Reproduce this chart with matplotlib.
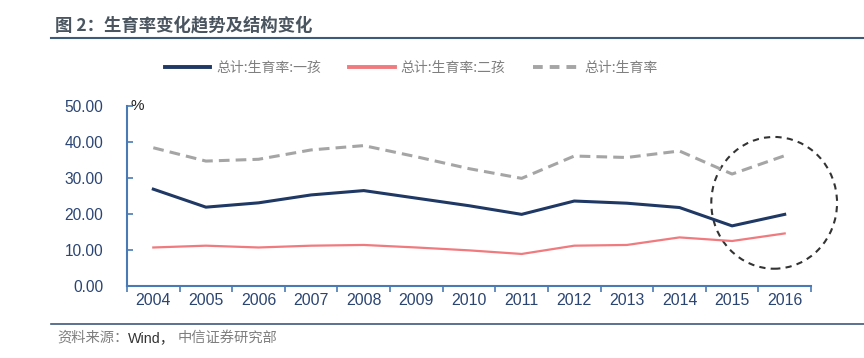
import numpy as np
import matplotlib
matplotlib.use("Agg")
import matplotlib.pyplot as plt
from matplotlib.patches import Ellipse
from matplotlib.lines import Line2D

plt.rcParams['font.family'] = ['Liberation Sans', 'Noto Sans CJK SC', 'DejaVu Sans']

years = ['2004', '2005', '2006', '2007', '2008', '2009', '2010',
         '2011', '2012', '2013', '2014', '2015', '2016']
first_child = [26.9, 21.9, 23.1, 25.3, 26.5, 24.4, 22.3, 19.9, 23.6, 23.0, 21.8, 16.7, 19.9]
second_child = [10.7, 11.2, 10.7, 11.2, 11.4, 10.7, 9.9, 8.9, 11.2, 11.4, 13.5, 12.5, 14.6]
total = [38.4, 34.7, 35.2, 37.8, 39.0, 35.9, 32.6, 29.9, 36.1, 35.7, 37.5, 31.1, 36.2]
series_names = ['总计:生育率:一孩', '总计:生育率:二孩', '总计:生育率']
yticks = [0, 10, 20, 30, 40, 50]

navy = '#1f3864'
label_blue = '#2b4573'
red = '#f07b7f'
grey = '#a5a5a5'
axis_blue = '#4a7ab5'
text_grey = '#7f7f7f'

fig = plt.figure(figsize=(8.64, 3.58), dpi=100)
ax = fig.add_axes([127 / 864, 1 - 286 / 358, (811 - 127) / 864, (286 - 106) / 358])

x = np.arange(len(years))
ax.plot(x, first_child, color=navy, lw=2.2)
ax.plot(x, second_child, color=red, lw=1.6)
ax.plot(x, total, color=grey, lw=2.2, ls=(0, (3.5, 2)))

ax.set_xlim(-0.5, len(years) - 0.5)
ax.set_ylim(0, 50)
ax.set_yticks(yticks)
ax.set_yticklabels([f'{v:.2f}' for v in yticks], fontsize=11.2, color=label_blue)
ax.set_xticks(x)
ax.set_xticklabels(years, fontsize=11.4, color=label_blue)
ax.set_xticks(np.arange(-0.5, len(years)), minor=True)
ax.tick_params(axis='x', which='major', length=0, pad=5)
ax.tick_params(axis='x', which='minor', length=4, direction='out', color=axis_blue, width=1.2)
ax.tick_params(axis='y', length=4, direction='in', color=axis_blue, width=1.2, pad=17)
for side in ['top', 'right']:
    ax.spines[side].set_visible(False)
for side in ['left', 'bottom']:
    ax.spines[side].set_color(axis_blue)
    ax.spines[side].set_linewidth(1.5)

ax.text(0.005, 1.0, '%', transform=ax.transAxes, fontsize=11, color='#222222',
        va='center', ha='left')

# dashed circle highlighting 2015-2016
ax.add_patch(Ellipse((11.8, 23.1), 2.39, 36.6, fill=False, ls=(0, (3, 2.5)),
                     lw=1.5, ec='#333333', clip_on=False))

# legend
handles = [Line2D([], [], color=navy, lw=2.8),
           Line2D([], [], color=red, lw=2.8),
           Line2D([], [], color=grey, lw=2.8, ls=(0, (2.5, 1.8)))]
leg = fig.legend(handles, series_names, loc='center', bbox_to_anchor=(411 / 864, 1 - 68 / 358),
                 ncol=3, frameon=False, handlelength=3.3, handletextpad=0.4,
                 columnspacing=2.0, prop={'family': 'Noto Sans CJK SC', 'size': 10})
for t in leg.get_texts():
    t.set_color(text_grey)

# title and source
fig.text(55 / 864, 1 - 25 / 358, '图 2：生育率变化趋势及结构变化', fontsize=12.5, fontweight='bold',
         color='#4a5560', family=['Noto Sans CJK SC'], va='center')
fig.add_artist(Line2D([51 / 864, 1], [1 - 38 / 358] * 2, color='#3d5a7a', lw=1.5))
fig.add_artist(Line2D([51 / 864, 1], [1 - 324 / 358] * 2, color='#3d5a7a', lw=1.2))
fig.text(57 / 864, 1 - 338 / 358, '资料来源：', fontsize=10.3, color=text_grey,
         family=['Noto Sans CJK SC'], va='center')
fig.text(128 / 864, 1 - 338 / 358, 'Wind，', fontsize=10.3, color='#333333',
         family=['Liberation Sans', 'Noto Sans CJK SC'], va='center')
fig.text(178 / 864, 1 - 338 / 358, '中信证券研究部', fontsize=10.3, color=text_grey,
         family=['Noto Sans CJK SC'], va='center')

fig.savefig('out.png', dpi=100, facecolor='white')
